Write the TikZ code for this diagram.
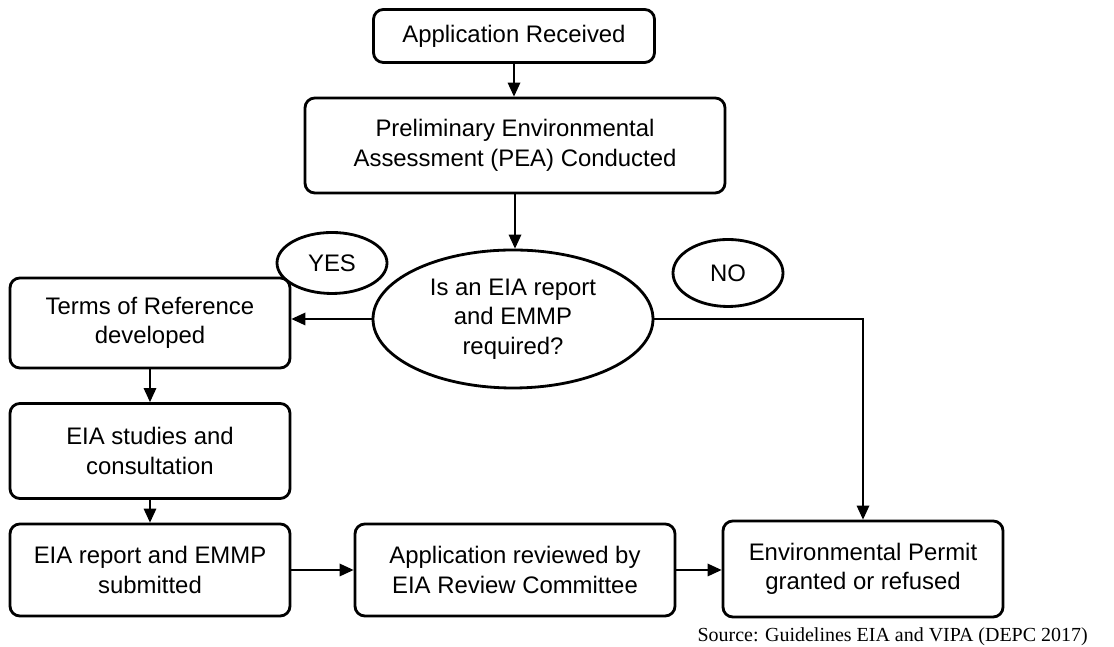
\documentclass[tikz,border=0pt]{standalone}
\usepackage{fontspec}
\setmainfont{Liberation Sans}
\newfontfamily\srcfont{Liberation Serif}
\usetikzlibrary{shapes.geometric,arrows.meta}

\tikzset{
  stepbox/.style={draw, line width=2pt, rounded corners=7pt, align=center,
    inner sep=0pt, font=\fontsize{17}{21}\selectfont},
  decision/.style={draw, ellipse, line width=2pt, align=center, inner sep=0pt,
    font=\fontsize{17}{21}\selectfont},
  flow/.style={line width=0.9pt, -{Triangle[length=10pt,width=9pt]}}
}

\begin{document}
\begin{tikzpicture}
\useasboundingbox (0,0) rectangle (27.85,16.175);

% top of the chart
\node[stepbox, minimum width=7.025cm, minimum height=1.325cm] (recv) at (12.85,15.275) {Application Received};
\node[stepbox, minimum width=10.5cm, minimum height=2.375cm] (pea) at (12.875,12.5375) {Preliminary Environmental\\Assessment (PEA) Conducted};
\node[decision, minimum width=7cm, minimum height=3.45cm] (q) at (12.825,8.2) {Is an EIA report\\and EMMP\\required?};
\node[decision, minimum width=2.75cm, minimum height=1.525cm] (yes) at (8.3,9.6) {YES};
\node[decision, minimum width=2.75cm, minimum height=1.675cm] (no) at (18.2,9.35) {NO};

% left column
\node[stepbox, minimum width=7cm, minimum height=2.25cm] (tor) at (3.75,8.1) {Terms of Reference\\developed};
\node[stepbox, minimum width=7cm, minimum height=2.375cm] (study) at (3.75,4.9) {EIA studies and\\consultation};
\node[stepbox, minimum width=7cm, minimum height=2.3cm] (sub) at (3.75,1.925) {EIA report and EMMP\\submitted};

% bottom row
\node[stepbox, minimum width=8cm, minimum height=2.3cm] (rev) at (12.875,1.925) {Application reviewed by\\EIA Review Committee};
\node[stepbox, minimum width=7cm, minimum height=2.4cm] (permit) at (21.575,1.95) {Environmental Permit\\granted or refused};

\node[anchor=east, inner sep=0pt, font=\srcfont\fontsize{14.2}{16}\selectfont] (src) at (27.2,0.25) {Source: Guidelines EIA and VIPA (DEPC 2017)};

% connectors
\draw[flow] (recv.south) -- (recv.south |- pea.north);
\draw[flow] (pea.south) -- (pea.south |- q.north);
\draw[flow] (q.west) -- (q.west -| tor.east);
\draw[flow] (q.east) -| (permit.north);
\draw[flow] (tor.south) -- (study.north);
\draw[flow] (study.south) -- (sub.north);
\draw[flow] (sub.east) -- (rev.west);
\draw[flow] (rev.east) -- (rev.east -| permit.west);
\end{tikzpicture}
\end{document}
